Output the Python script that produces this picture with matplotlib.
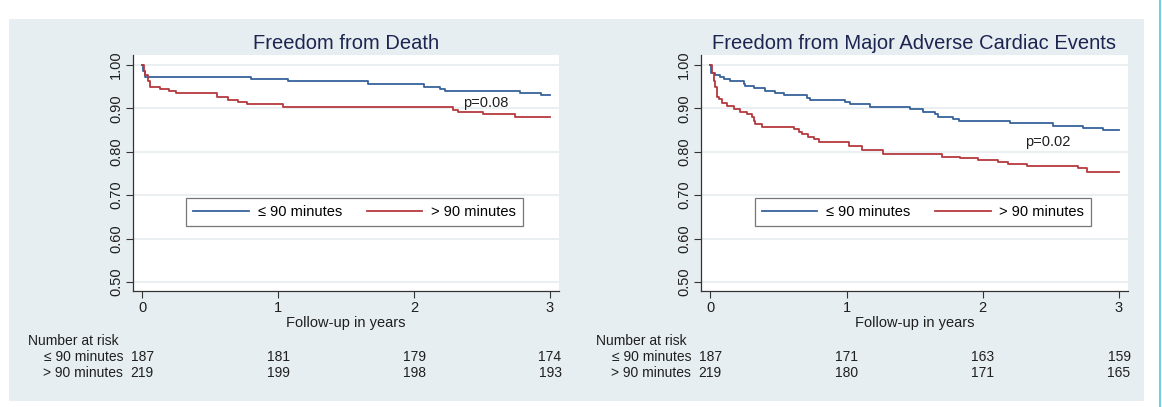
import numpy as np
import matplotlib
matplotlib.use('Agg')
import matplotlib.pyplot as plt
from matplotlib.patches import Rectangle
from matplotlib.lines import Line2D
import matplotlib.transforms as mtransforms

plt.rcParams['font.family'] = ['Liberation Sans', 'DejaVu Sans']

# Kaplan-Meier step curves (years, survival)
death_le90_t = [0.0, 0.005, 0.02, 0.80, 1.07, 1.66, 2.07, 2.19, 2.23, 2.78, 2.93, 3.0]
death_le90_s = [1.0, 0.985, 0.973, 0.967, 0.962, 0.956, 0.950, 0.945, 0.941, 0.935, 0.930, 0.930]
death_gt90_t = [0.0, 0.01, 0.02, 0.04, 0.056, 0.13, 0.20, 0.25, 0.547, 0.633, 0.706, 0.768,
                1.038, 2.288, 2.325, 2.509, 2.742, 3.0]
death_gt90_s = [1.0, 0.986, 0.977, 0.963, 0.950, 0.944, 0.940, 0.935, 0.927, 0.919, 0.914, 0.909,
                0.904, 0.896, 0.891, 0.886, 0.881, 0.881]

mace_le90_t = [0.0, 0.007, 0.037, 0.073, 0.098, 0.147, 0.244, 0.257, 0.318, 0.403, 0.477, 0.538,
               0.709, 0.733, 0.990, 1.027, 1.174, 1.467, 1.565, 1.650, 1.675, 1.785, 1.822, 2.2,
               2.518, 2.738, 2.885, 3.0]
mace_le90_s = [1.0, 0.981, 0.977, 0.972, 0.967, 0.962, 0.956, 0.952, 0.946, 0.941, 0.936, 0.931,
               0.925, 0.919, 0.914, 0.909, 0.904, 0.899, 0.892, 0.886, 0.881, 0.875, 0.871, 0.866,
               0.860, 0.854, 0.849, 0.849]
mace_gt90_t = [0.0, 0.012, 0.024, 0.037, 0.049, 0.061, 0.086, 0.122, 0.171, 0.220, 0.269, 0.306,
               0.318, 0.330, 0.379, 0.611, 0.648, 0.672, 0.721, 0.758, 0.795, 1.015, 1.112, 1.271,
               1.699, 1.834, 1.968, 2.115, 2.188, 2.323, 2.702, 2.763, 3.0]
mace_gt90_s = [1.0, 0.981, 0.962, 0.950, 0.927, 0.921, 0.912, 0.906, 0.898, 0.892, 0.886, 0.881,
               0.871, 0.864, 0.858, 0.852, 0.846, 0.841, 0.835, 0.829, 0.823, 0.813, 0.804, 0.794,
               0.789, 0.785, 0.781, 0.776, 0.771, 0.767, 0.762, 0.753, 0.753]

titles = ['Freedom from Death', 'Freedom from Major Adverse Cardiac Events']
p_values = ['p=0.08', 'p=0.02']
p_pos = [(2.36, 0.912), (2.31, 0.823)]
group_labels = ['\u2264 90 minutes', '> 90 minutes']
risk_years = [0, 1, 2, 3]
risk_death = [[187, 181, 179, 174], [219, 199, 198, 193]]
risk_mace = [[187, 171, 163, 159], [219, 180, 171, 165]]

BLUE = '#36629b'
RED = '#b5393e'
PANEL = '#e7eef1'
TXT = '#1f1f1f'

fig = plt.figure(figsize=(11.62, 4.07), dpi=100)
W, H = 1162.0, 407.0

# light panel behind everything, and the cyan page edge on the right
fig.patches.append(Rectangle((9 / W, 1 - 401 / H), (1144 - 9) / W, (401 - 19) / H,
                             transform=fig.transFigure, facecolor=PANEL, edgecolor='none',
                             zorder=-5))
fig.lines.append(Line2D([1159.5 / W, 1159.5 / W], [0, 1], transform=fig.transFigure,
                        color='#6dd2de', lw=1.5))

ax1 = fig.add_axes([133 / W, 1 - 291 / H, 426 / W, 236 / H])
ax2 = fig.add_axes([701 / W, 1 - 291 / H, 427 / W, 236 / H])

curves = [
    (death_le90_t, death_le90_s, death_gt90_t, death_gt90_s, risk_death),
    (mace_le90_t, mace_le90_s, mace_gt90_t, mace_gt90_s, risk_mace),
]

for i, ax in enumerate([ax1, ax2]):
    t1, s1, t2, s2, risk = curves[i]
    ax.set_facecolor('white')
    ax.step(t1, s1, where='post', color=BLUE, lw=1.3, label=group_labels[0])
    ax.step(t2, s2, where='post', color=RED, lw=1.3, label=group_labels[1])
    ax.set_xlim(-0.068, 3.066)
    ax.set_ylim(0.479, 1.023)
    ax.set_yticks([0.5, 0.6, 0.7, 0.8, 0.9, 1.0])
    ax.set_yticklabels(['0.50', '0.60', '0.70', '0.80', '0.90', '1.00'],
                       rotation=90, va='center')
    ax.set_xticks(risk_years)
    ax.grid(axis='y', color='#e6edf0', lw=1.2)
    ax.set_axisbelow(True)
    for side in ['top', 'right']:
        ax.spines[side].set_visible(False)
    for side in ['left', 'bottom']:
        ax.spines[side].set_color('#333333')
        ax.spines[side].set_linewidth(0.9)
    ax.tick_params(length=5, width=0.8, color='#333333', labelsize=10.5, labelcolor=TXT)
    ax.tick_params(axis='y', pad=2)
    ax.tick_params(axis='x', pad=2)
    ax.set_xlabel('Follow-up in years', fontsize=10.5, color=TXT, labelpad=1)
    ax.set_title(titles[i], fontsize=14.5, color='#1c2550', pad=4)
    ax.text(p_pos[i][0], p_pos[i][1], p_values[i], fontsize=10.5, color=TXT, va='center')

    leg = ax.legend(loc='center', bbox_to_anchor=(0.52, 0.335), ncol=2, fontsize=10.5,
                    frameon=True, fancybox=False, handlelength=3.8, borderpad=0.5,
                    handletextpad=0.6, columnspacing=1.7, borderaxespad=0)
    leg.get_frame().set_edgecolor('#555555')
    leg.get_frame().set_linewidth(0.9)

    # number at risk table below the axis
    trans = mtransforms.blended_transform_factory(ax.transData, fig.transFigure)
    x0_px = 28 if i == 0 else 596
    lab_px = 123 if i == 0 else 691
    fig.text(x0_px / W, 1 - 341 / H, 'Number at risk', fontsize=10, color=TXT, va='center')
    for r, ypx in enumerate([357, 373]):
        fig.text(lab_px / W, 1 - ypx / H, group_labels[r], fontsize=10, color=TXT,
                 va='center', ha='right')
        for yr, n in zip(risk_years, risk[r]):
            ax.text(yr, 1 - ypx / H, str(n), transform=trans, fontsize=10, color=TXT,
                    va='center', ha='center', clip_on=False)

fig.savefig('out.png', dpi=100, facecolor='white')
